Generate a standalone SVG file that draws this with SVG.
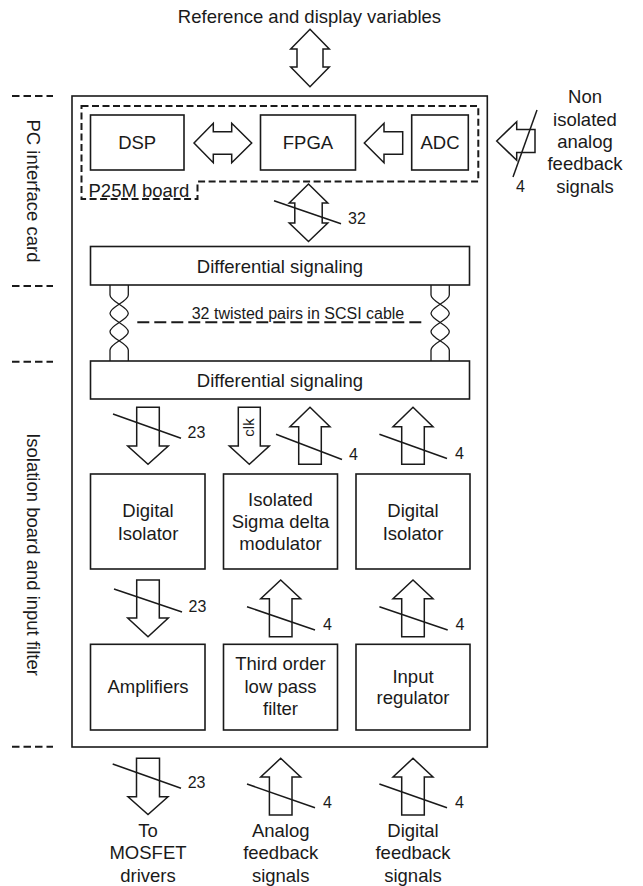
<svg xmlns="http://www.w3.org/2000/svg" width="643" height="886" viewBox="0 0 643 886">
<style>
  .box { fill: #ffffff; stroke: #1a1a1a; stroke-width: 1.6; }
  .dash { fill: none; stroke: #1a1a1a; stroke-width: 2; stroke-dasharray: 7 3.5; }
  .sep { fill: none; stroke: #1a1a1a; stroke-width: 2; stroke-dasharray: 7.5 4; }
  .arrow { fill: #ffffff; stroke: #1a1a1a; stroke-width: 1.5; stroke-linejoin: miter; }
  .slash { fill: none; stroke: #1a1a1a; stroke-width: 1.5; }
  .tw { fill: none; stroke: #1a1a1a; stroke-width: 1.3; }
  .t { font-family: "Liberation Sans", Arial, sans-serif; font-size: 18.5px; fill: #1a1a1a; text-anchor: middle; }
  .n { font-family: "Liberation Sans", Arial, sans-serif; font-size: 16px; fill: #1a1a1a; text-anchor: start; }
  .s { font-family: "Liberation Sans", Arial, sans-serif; font-size: 16px; fill: #1a1a1a; text-anchor: middle; }
</style>
<rect width="643" height="886" fill="#ffffff"/>

<!-- section separators and side labels -->
<g id="sections">
  <line class="sep" x1="12" y1="96" x2="53" y2="96"/>
  <line class="sep" x1="12" y1="286" x2="53" y2="286"/>
  <line class="sep" x1="12" y1="361.7" x2="53" y2="361.7"/>
  <line class="sep" x1="12" y1="746.7" x2="53" y2="746.7"/>
  <text class="t" transform="translate(33,191) rotate(90)" x="0" y="6.5">PC interface card</text>
  <text class="t" transform="translate(33,554.5) rotate(90)" x="0" y="6.5">Isolation board and input filter</text>
</g>

<g id="outer">
  <rect class="box" x="72" y="96" width="415.3" height="651"/>
</g>

<g id="p25m">
  <path class="dash" d="M81.5,106 H478.3 V181.5 H197.5 V199 H81.5 Z"/>
  <text class="t" style="text-anchor:start" x="88.5" y="196.5">P25M board</text>
</g>

<g id="dsp">
  <rect class="box" x="90.5" y="115" width="93.5" height="55"/>
  <text class="t" x="137.2" y="149">DSP</text>
</g>
<g id="fpga">
  <rect class="box" x="260.5" y="115" width="95" height="55"/>
  <text class="t" x="308" y="149">FPGA</text>
</g>
<g id="adc">
  <rect class="box" x="411.7" y="115" width="56.6" height="55"/>
  <text class="t" x="440" y="149">ADC</text>
</g>

<g id="diff1">
  <rect class="box" x="90.5" y="246.5" width="379" height="38.5"/>
  <text class="t" x="280" y="272.5">Differential signaling</text>
</g>
<g id="diff2">
  <rect class="box" x="90.5" y="361" width="379" height="38"/>
  <text class="t" x="280" y="386.5">Differential signaling</text>
</g>

<g id="iso1">
  <rect class="box" x="90.5" y="474" width="114.5" height="95"/>
  <text class="t" x="148" y="516.5">Digital</text>
  <text class="t" x="148" y="539.5">Isolator</text>
</g>
<g id="sdm">
  <rect class="box" x="223.5" y="474" width="114" height="95"/>
  <text class="t" x="280.5" y="505.5">Isolated</text>
  <text class="t" x="280.5" y="528">Sigma delta</text>
  <text class="t" x="280.5" y="550">modulator</text>
</g>
<g id="iso2">
  <rect class="box" x="356" y="474" width="114" height="95"/>
  <text class="t" x="413" y="516.5">Digital</text>
  <text class="t" x="413" y="539.5">Isolator</text>
</g>

<g id="amp">
  <rect class="box" x="90.5" y="644.3" width="114.5" height="85.7"/>
  <text class="t" x="148" y="693">Amplifiers</text>
</g>
<g id="lpf">
  <rect class="box" x="223.5" y="644.3" width="114" height="85.7"/>
  <text class="t" x="280.5" y="669.8">Third order</text>
  <text class="t" x="280.5" y="693">low pass</text>
  <text class="t" x="280.5" y="715">filter</text>
</g>
<g id="reg">
  <rect class="box" x="356" y="644.3" width="114" height="85.7"/>
  <text class="t" x="413" y="682.5">Input</text>
  <text class="t" x="413" y="704">regulator</text>
</g>

<g id="labels">
  <text class="t" x="309.5" y="22.7">Reference and display variables</text>
  <text class="t" x="585" y="102.5">Non</text>
  <text class="t" x="585" y="125.8">isolated</text>
  <text class="t" x="585" y="147.5">analog</text>
  <text class="t" x="585" y="169.8">feedback</text>
  <text class="t" x="585" y="192.5">signals</text>
  <text class="t" x="148" y="836.5">To</text>
  <text class="t" x="148" y="859">MOSFET</text>
  <text class="t" x="148" y="881.5">drivers</text>
  <text class="t" x="280.7" y="836.5">Analog</text>
  <text class="t" x="280.7" y="859">feedback</text>
  <text class="t" x="280.7" y="881.5">signals</text>
  <text class="t" x="413" y="836.5">Digital</text>
  <text class="t" x="413" y="859">feedback</text>
  <text class="t" x="413" y="881.5">signals</text>
</g>

<g id="connectors">
  <!-- top bidirectional -->
  <path class="arrow" d="M310,29.3 L329.3,49 L323,49 L323,67 L329.3,67 L310,86.7 L290.7,67 L297,67 L297,49 L290.7,49 Z"/>
  <!-- DSP <-> FPGA -->
  <path class="arrow" d="M194,143 L213.3,123.3 L213.3,131.7 L231.7,131.7 L231.7,123.3 L251.7,143 L231.7,162.7 L231.7,154.3 L213.3,154.3 L213.3,162.7 Z"/>
  <!-- ADC -> FPGA -->
  <path class="arrow" d="M364.3,143 L384,123.3 L384,131.7 L402.7,131.7 L402.7,154.3 L384,154.3 L384,162.7 Z"/>
  <!-- input to ADC -->
  <path class="arrow" d="M496.7,141 L516.7,121.7 L516.7,129.5 L535,129.5 L535,152.5 L516.7,152.5 L516.7,160.3 Z"/>
  <line class="slash" x1="537" y1="110" x2="513" y2="177"/>
  <text class="n" x="516" y="191.7">4</text>
  <!-- 32 bus -->
  <path class="arrow" d="M308.5,184 L327.8,203 L322.2,203 L322.2,223 L327.8,223 L308.5,241.5 L289.2,223 L294.8,223 L294.8,203 L289.2,203 Z"/>
  <line class="slash" x1="274" y1="200.7" x2="341" y2="223.7"/>
  <text class="n" x="348" y="223.6">32</text>

  <!-- twisted pairs -->
  <path class="tw" d="M110,285 V295 C110,301.7 128.3,306.7 128.3,313.3 C128.3,320 110,325 110,331.7 C110,338.3 128.3,343.3 128.3,350 V361"/>
  <path class="tw" d="M128.3,285 V295 C128.3,301.7 110,306.7 110,313.3 C110,320 128.3,325 128.3,331.7 C128.3,338.3 110,343.3 110,350 V361"/>
  <path class="tw" d="M431,285 V295 C431,301.7 449.3,306.7 449.3,313.3 C449.3,320 431,325 431,331.7 C431,338.3 449.3,343.3 449.3,350 V361"/>
  <path class="tw" d="M449.3,285 V295 C449.3,301.7 431,306.7 431,313.3 C431,320 449.3,325 449.3,331.7 C449.3,338.3 431,343.3 431,350 V361"/>
  <line x1="137.3" y1="322.3" x2="422.3" y2="322.3" stroke="#1a1a1a" stroke-width="2" stroke-dasharray="12 5"/>
  <text class="s" x="298" y="318.5">32 twisted pairs in SCSI cable</text>

  <!-- row 2 arrows -->
  <path class="arrow" d="M136.7,407.3 L159.3,407.3 L159.3,446 L168.3,446 L148,464.3 L127.7,446 L136.7,446 Z"/>
  <line class="slash" x1="113" y1="414" x2="181" y2="438.3"/>
  <text class="n" x="187.5" y="438.3">23</text>
  <path class="arrow" d="M238.3,407.3 L260.3,407.3 L260.3,446 L269.3,446 L249.3,464.3 L229.3,446 L238.3,446 Z"/>
  <text class="s" style="font-size:15px" transform="translate(249.3,427.5) rotate(-90)" x="0" y="5">clk</text>
  <path class="arrow" d="M310,407.3 L330,426.7 L321.3,426.7 L321.3,464.3 L298.7,464.3 L298.7,426.7 L290,426.7 Z"/>
  <line class="slash" x1="276" y1="434.3" x2="342" y2="459.5"/>
  <text class="n" x="349" y="459.5">4</text>
  <path class="arrow" d="M413,407.3 L433,426.7 L424.3,426.7 L424.3,464.3 L401.7,464.3 L401.7,426.7 L393,426.7 Z"/>
  <line class="slash" x1="379.4" y1="434.3" x2="447" y2="458.5"/>
  <text class="n" x="455" y="458.5">4</text>

  <!-- row 3 arrows -->
  <path class="arrow" d="M136.7,580 L159.3,580 L159.3,618 L168.3,618 L148,636.7 L127.7,618 L136.7,618 Z"/>
  <line class="slash" x1="114" y1="589" x2="182" y2="612"/>
  <text class="n" x="188.5" y="612">23</text>
  <path class="arrow" d="M280.7,580 L300.7,598.7 L292,598.7 L292,636.7 L269.4,636.7 L269.4,598.7 L260.7,598.7 Z"/>
  <line class="slash" x1="247" y1="606.7" x2="315" y2="630"/>
  <text class="n" x="323" y="630">4</text>
  <path class="arrow" d="M413,580 L433,598.7 L424.3,598.7 L424.3,636.7 L401.7,636.7 L401.7,598.7 L393,598.7 Z"/>
  <line class="slash" x1="379.4" y1="606.7" x2="447.7" y2="630"/>
  <text class="n" x="455.5" y="630">4</text>

  <!-- bottom arrows -->
  <path class="arrow" d="M136.5,758.3 L159.5,758.3 L159.5,796.7 L168,796.7 L148,814.5 L128,796.7 L136.5,796.7 Z"/>
  <line class="slash" x1="112.7" y1="764" x2="181" y2="788.3"/>
  <text class="n" x="187.7" y="788.3">23</text>
  <path class="arrow" d="M280.7,758.3 L300.7,777 L292,777 L292,815 L269.4,815 L269.4,777 L260.7,777 Z"/>
  <line class="slash" x1="247" y1="784" x2="315" y2="807.7"/>
  <text class="n" x="323" y="807.7">4</text>
  <path class="arrow" d="M413,758.3 L433,777 L424.3,777 L424.3,815 L401.7,815 L401.7,777 L393,777 Z"/>
  <line class="slash" x1="379.4" y1="784" x2="447" y2="807.7"/>
  <text class="n" x="455" y="807.7">4</text>
</g>
</svg>
